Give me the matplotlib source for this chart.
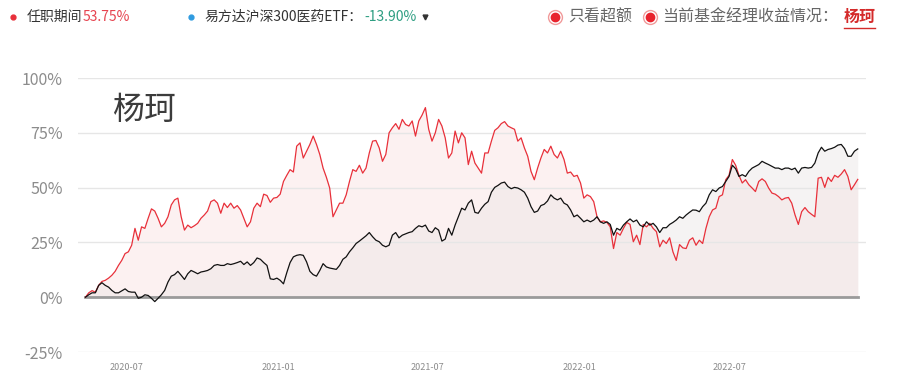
import numpy as np
import pandas as pd
import matplotlib
matplotlib.use("Agg")
import matplotlib.pyplot as plt

plt.rcParams["font.family"] = ["Noto Sans CJK SC", "DejaVu Sans"]

# cumulative return (%) sampled every 4 days from 2020-05-12
start_date = "2020-05-12"
step = "4D"

manager_return = [
    0, 2, 3, 2.3, 5.4, 7.2, 7.7, 8.7, 10, 11.8, 14.5, 16.8, 19.9, 20.7, 23.7, 31.4,
    26, 32.1, 31.4, 36, 40.3, 39.3, 36, 32.1, 33.7, 36.7, 42.1, 44.4, 45.2, 36.7,
    30.6, 32.9, 31.7, 32.6, 33.7, 36, 37.5, 39.3, 43.6, 44.4, 42.9, 38.3, 42.9,
    40.9, 42.9, 40.6, 41.8, 39.8, 36, 32.1, 34.4, 40.6, 42.9, 41.3, 47, 46.4, 43.3,
    45.2,
    45.5, 47, 52.8, 55.6, 58.2, 57.1, 68.9, 70.4, 63.5, 66.6, 69.7, 73.5, 69.7,
    65.1, 58.9, 54.7, 49.8, 36.7, 39.8, 42.9, 42.9, 46.7, 52.8, 58.2, 57.4, 60.2,
    56.6, 58.9, 65.8, 71.2, 71.5, 68.1, 62, 65.1, 75, 77.3, 79.2, 76.6, 81.1, 78.8,
    78.1, 80.4, 73.5, 80.4, 83.1, 86.5, 76.6, 71.2, 75, 81.1, 78.1, 72.7, 63.5,
    65.8, 75.8, 70.4, 75, 72.7, 60.5, 66.6,
    61.2, 58.9, 56.6, 65.8, 65.8, 71.2, 76.1, 77.3, 79.2, 80.1, 78.1, 77.3, 76.6,
    71.2, 72.7, 68.1, 64.3, 57.4, 53.6, 58.9, 63.5, 67.4, 65.8, 68.9, 65.1, 63.5,
    66.6, 62.8, 56.6, 57.1, 55.1, 55.6, 52.1, 45.2, 46.7, 45.9, 43.6, 36.7, 34.4,
    34.8, 34.1, 32.1, 22.2, 29.5, 28.3, 31.4, 34.1, 33.2, 25.3, 28.3, 24, 33.2,
    32.1, 33.7, 31.4, 29.9, 23, 26,
    24.5, 27.1, 20.7, 16.8, 24, 22.5, 22.2, 26, 27.1, 23.7, 26, 24.5, 31.4, 36.7,
    39.8, 40.6, 45.9, 46.7, 53.6, 55.6, 62.8, 60.2, 55.6, 52.1, 53.6, 51.3, 49.8,
    48.2, 52.8, 54, 52.8, 49.8, 47.5, 47, 45.9, 44.4, 45.2, 45.5, 42.9, 37.5, 33.2,
    39, 40.9, 39, 37.8, 36.7, 54.3, 54.7, 50.1, 54.7, 52.8, 55.6, 54.7, 56.2, 58.2,
    55.1, 49, 51.3, 53.75,
]

etf_return = [
    0, 1.1, 2, 2, 5.4, 6.6, 5.4, 4.6, 3.1, 2, 2, 2.9, 3.8, 2.6, 2.3, 2.3, -0.5, 0,
    1.1, 0.8, -0.5, -2, -0.5, 1.1, 3.1, 6.9, 9.6, 10.3, 11.8, 10, 8.1, 10.7, 12.2,
    11.5, 10.7, 11.5, 11.8, 12.2, 13, 14.5, 14.9, 14.5, 14.5, 15.3, 14.9, 15.3,
    15.8, 16.4, 14.9, 16.1, 14.5, 15.8, 17.9, 17.3, 15.8, 14.5, 8.4, 8.1,
    8.7, 7.7, 6.1, 11.2, 15.8, 18.4, 19.1, 19.4, 19.1, 16.1, 11.8, 10.3, 9.6, 12.2,
    15.3, 13.8, 13.3, 13, 12.7, 14.5, 17.3, 18.4, 20.7, 22.5, 24.5, 25.6, 26.8, 28,
    29.5, 27.6, 26, 25.3, 23.7, 23, 23.7, 28.3, 29.5, 27.1, 28.3, 28.9, 29.5, 29.9,
    31.4, 32.6, 32.1, 32.9, 30.2, 29.5, 31.7, 30.6, 25.6, 26.5, 31.4, 28.3, 32.9,
    36.7, 40.6, 39.8, 42.9, 44.4,
    38.7, 38.3, 40.6, 42.4, 43.6, 47.9, 50.1, 51, 52.1, 52.5, 50.5, 49.5, 50.1,
    49.8, 49, 47.9, 45.2, 41.3, 38.7, 39.3, 41.8, 42.4, 43.9, 46.7, 45.2, 44.4,
    45.2, 42.9, 42.1, 39.8, 36.7, 37.5, 36, 34.4, 35.2, 34.4, 35.2, 36.7, 34.4,
    33.7, 34.4, 33.2, 28.3, 31.4, 30.6, 32.9, 34.4, 35.7, 34.4, 35.2, 32.9, 32.1,
    34.4, 32.9, 33.7, 32.1, 29.5, 31.7,
    31.7, 33.2, 34.1, 35.2, 36.7, 36, 37.5, 38.7, 39.8, 39.7, 39, 41.3, 42.9, 46.7,
    49, 48.2, 49.8, 50.5, 52.8, 55.1, 60.2, 58.6, 55.1, 55.9, 55.1, 57.4, 58.9,
    59.7, 60.5, 62, 61.2, 60.5, 59.7, 58.9, 58.9, 58.2, 58.9, 58.9, 58.2, 58.9,
    56.6, 58.9, 59.2, 58.9, 59.2, 61.2, 65.8, 68.4, 66.6, 67.4, 67.8, 68.4, 69.4,
    69.7, 67.8, 64.3, 64.3, 66.6, 67.65,
]

y_ticks = [-25, 0, 25, 50, 75, 100]
x_ticks = ["2020-07-01", "2021-01-01", "2021-07-01", "2022-01-01", "2022-07-01"]
x_tick_labels = ["2020-07", "2021-01", "2021-07", "2022-01", "2022-07"]

manager_name = "杨珂"
tenure_return = "53.75%"
etf_name = "易方达沪深300医药ETF："
etf_excess = "-13.90%"

RED = "#e8303a"
GRAY_TXT = "#8c8c8c"

dates = pd.date_range(start_date, periods=len(manager_return), freq=step)
red = np.array(manager_return)
blk = np.array(etf_return)

fig = plt.figure(figsize=(8.99, 3.85), dpi=100)
ax = fig.add_axes([0.0868, 0.0857, 0.8765, 0.7117])

ax.fill_between(dates, red, 0, color="#fbe8e8", alpha=0.6, lw=0)
ax.fill_between(dates, blk, 0, color="#e8e2e2", alpha=0.4, lw=0)
ax.plot(dates, red, color=RED, lw=0.9, zorder=3)
ax.plot(dates, blk, color="#111111", lw=0.9, zorder=4)
ax.plot([dates[0], dates[-1]], [0, 0], color="#9a9a9a", lw=2, zorder=2)

ax.set_ylim(-25, 100)
ax.set_xlim(dates[0] - pd.Timedelta(days=9), dates[-1] + pd.Timedelta(days=10))
ax.set_yticks(y_ticks)
ax.set_yticklabels([f"{t}%" for t in y_ticks], fontsize=11.5, color=GRAY_TXT)
ax.set_xticks(pd.to_datetime(x_ticks))
ax.set_xticklabels(x_tick_labels, fontsize=6.5, color=GRAY_TXT)
ax.tick_params(axis="y", length=0, pad=11)
ax.tick_params(axis="x", length=0, pad=8)
for t in y_ticks:
    if t != 0:
        ax.axhline(t, color="#e6e6e6", lw=1, zorder=1)
for s in ax.spines.values():
    s.set_visible(False)

ax.text(0.044, 0.885, manager_name, transform=ax.transAxes, fontsize=23,
        color="#3c3c3c", va="center", ha="left")

# header row, in pixel coordinates
hd = fig.add_axes([0, 0, 1, 1], facecolor="none")
hd.set_xlim(0, 899)
hd.set_ylim(385, 0)
hd.axis("off")

hd.plot(13, 17, "o", color=RED, ms=3.5)
hd.text(27, 17, "任职期间", fontsize=10, color="#333333", va="center")
hd.text(83, 17, tenure_return, fontsize=10, color="#e6434f", va="center")
hd.plot(191, 17, "o", color="#2f9be0", ms=3.5)
hd.text(204, 17, etf_name, fontsize=10, color="#333333", va="center")
hd.text(364, 17, etf_excess, fontsize=10, color="#2e9e82", va="center")
hd.plot(425, 17, "v", color="#333333", ms=3.5)

for cx in (555, 650):
    hd.plot(cx, 17, "o", ms=10, mfc="white", mec="#f19a9a", mew=1)
    hd.plot(cx, 17, "o", ms=6, color="#e8222c")
hd.text(568, 17, "只看超额", fontsize=11.5, color="#666666", va="center")
hd.text(662, 17, "当前基金经理收益情况：", fontsize=11.5, color="#666666", va="center")
hd.text(844, 17, manager_name, fontsize=11.5, color="#d42a2a", va="center",
        fontweight="bold")
hd.plot([844, 875], [28, 28], color="#d42a2a", lw=1)

fig.savefig("out.png", dpi=100, facecolor="white")
